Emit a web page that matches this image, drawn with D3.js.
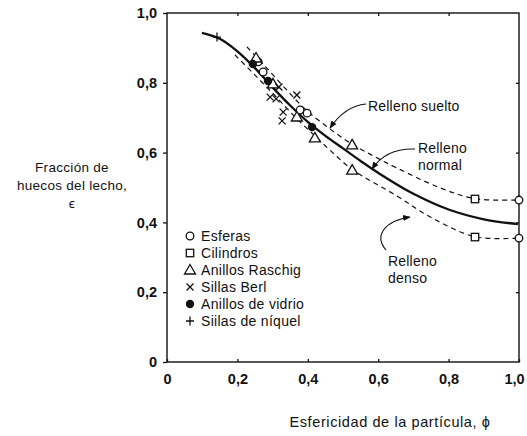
<!DOCTYPE html>
<html><head><meta charset="utf-8">
<script src="https://cdn.jsdelivr.net/npm/d3@7"></script>
<style>body{margin:0;background:#fff}svg{display:block}text{font-family:"Liberation Sans",Arial,sans-serif;fill:#111}</style>
</head><body>
<svg id="c" width="527" height="436"></svg>
<script>
const xTicks=[0,0.2,0.4,0.6,0.8,1.0];
const yTicks=[0,0.2,0.4,0.6,0.8,1.0];
const tickLabel=d=>d===0?"0":d.toFixed(1).replace(".",",");
// curves: [esfericidad, fraccion de huecos]
const rellenoNormal=[[0.099,0.943],[0.15,0.926],[0.2,0.890],[0.25,0.842],[0.3,0.787],[0.35,0.735],[0.4,0.688],[0.45,0.648],[0.5,0.612],[0.55,0.576],[0.6,0.542],[0.7,0.482],[0.8,0.437],[0.9,0.409],[0.997,0.395]];
const rellenoSuelto=[[0.227,0.903],[0.278,0.848],[0.335,0.785],[0.392,0.725],[0.463,0.668],[0.526,0.624],[0.591,0.588],[0.653,0.556],[0.776,0.499],[0.875,0.468],[0.997,0.464]];
const rellenoDenso=[[0.193,0.880],[0.250,0.822],[0.307,0.763],[0.364,0.702],[0.420,0.648],[0.463,0.607],[0.526,0.552],[0.653,0.476],[0.747,0.416],[0.875,0.359],[0.997,0.355]];
// data points
const esferas=[[0.259,0.860],[0.273,0.831],[0.378,0.722],[0.398,0.713],[1.0,0.464],[1.0,0.355]];
const cilindros=[[0.875,0.467],[0.875,0.358]];
const anillosRaschig=[[0.253,0.871],[0.301,0.797],[0.369,0.702],[0.420,0.642],[0.526,0.622],[0.526,0.550]];
const sillasBerl=[[0.293,0.759],[0.310,0.754],[0.318,0.788],[0.369,0.765],[0.330,0.716],[0.327,0.691]];
const anillosVidrio=[[0.244,0.854],[0.287,0.805],[0.412,0.673]];
const sillasNiquel=[[0.142,0.931]];
const legendLabels=["Esferas","Cilindros","Anillos Raschig","Sillas Berl","Anillos de vidrio","Siilas de níquel"];

const svg=d3.select("#c");
const x=d3.scaleLinear().domain([0,1]).range([167,519]);
const y=d3.scaleLinear().domain([0,1]).range([362,13]);

// frame
svg.append("rect").attr("x",x(0)).attr("y",y(1)).attr("width",x(1)-x(0)).attr("height",y(0)-y(1))
  .attr("fill","none").attr("stroke","#111").attr("stroke-width",1.4);

// axes (ticks)
const gl=svg.append("g").attr("transform",`translate(${x(0)},0)`)
  .call(d3.axisLeft(y).tickValues(yTicks).tickSize(4).tickPadding(6).tickFormat(tickLabel));
const gb=svg.append("g").attr("transform",`translate(0,${y(0)})`)
  .call(d3.axisBottom(x).tickValues(xTicks).tickSize(-3).tickPadding(12).tickFormat(tickLabel));
const gt=svg.append("g").attr("transform",`translate(0,${y(1)})`)
  .call(d3.axisTop(x).tickValues(xTicks.slice(1,-1)).tickSize(-3).tickFormat(""));
const gr=svg.append("g").attr("transform",`translate(${x(1)},0)`)
  .call(d3.axisRight(y).tickValues(yTicks.slice(1,-1)).tickSize(-3).tickFormat(""));
[gl,gb,gt,gr].forEach(g=>{g.select(".domain").remove();g.selectAll("line").attr("stroke","#111").attr("stroke-width",1.3);
  g.selectAll("text").style("font-family",'"Liberation Sans",Arial,sans-serif').style("font-size","14.5px").style("font-weight","bold").attr("fill","#111");});
gb.selectAll(".tick text").filter(d=>d===1).attr("dx",-5);

// curves
const line=d3.line().x(d=>x(d[0])).y(d=>y(d[1])).curve(d3.curveCatmullRom.alpha(0.5));
svg.append("path").datum(rellenoNormal).attr("d",line).attr("fill","none").attr("stroke","#111").attr("stroke-width",2.3);
svg.append("path").datum(rellenoSuelto).attr("d",line).attr("fill","none").attr("stroke","#111").attr("stroke-width",1.2).attr("stroke-dasharray","5,4");
svg.append("path").datum(rellenoDenso).attr("d",line).attr("fill","none").attr("stroke","#111").attr("stroke-width",1.2).attr("stroke-dasharray","5,4");

// marker drawers
function circle(g,cx,cy){g.append("circle").attr("cx",cx).attr("cy",cy).attr("r",3.8).attr("fill","#fff").attr("stroke","#111").attr("stroke-width",1.3);}
function square(g,cx,cy){g.append("rect").attr("x",cx-3.7).attr("y",cy-3.7).attr("width",7.4).attr("height",7.4).attr("fill","#fff").attr("stroke","#111").attr("stroke-width",1.3);}
function tri(g,cx,cy){g.append("path").attr("d",`M${cx},${cy-5.5}L${cx+5.5},${cy+4}L${cx-5.5},${cy+4}Z`).attr("fill","#fff").attr("stroke","#111").attr("stroke-width",1.3);}
function cross(g,cx,cy){g.append("path").attr("d",`M${cx-3.5},${cy-3.5}L${cx+3.5},${cy+3.5}M${cx+3.5},${cy-3.5}L${cx-3.5},${cy+3.5}`).attr("stroke","#111").attr("stroke-width",1.3);}
function dot(g,cx,cy){g.append("circle").attr("cx",cx).attr("cy",cy).attr("r",4.2).attr("fill","#111");}
function plus(g,cx,cy){g.append("path").attr("d",`M${cx-4},${cy}L${cx+4},${cy}M${cx},${cy-4.5}L${cx},${cy+4.5}`).attr("stroke","#111").attr("stroke-width",1.3);}
const sets=[[esferas,circle],[cilindros,square],[anillosRaschig,tri],[sillasBerl,cross],[anillosVidrio,dot],[sillasNiquel,plus]];
const gm=svg.append("g");
sets.forEach(([data,fn])=>data.forEach(d=>fn(gm,x(d[0]),y(d[1]))));

// legend
const lg=svg.append("g");
legendLabels.forEach((t,i)=>{
  const yy=236+i*17;
  sets[i][1](lg,190,yy);
  lg.append("text").attr("x",201).attr("y",yy).attr("dy","0.36em").style("font-size","14px").style("letter-spacing","0.3px").text(t);
});

// annotations
const defs=svg.append("defs");
defs.append("marker").attr("id","ah").attr("viewBox","0 0 10 10").attr("refX",9).attr("refY",5)
  .attr("markerWidth",7).attr("markerHeight",7).attr("orient","auto-start-reverse")
  .append("path").attr("d","M0,1L10,5L0,9Z").attr("fill","#111");
const ann=[
  {t:["Relleno suelto"],tx:368,ty:106,p:"M366,104 Q345,106 330,128"},
  {t:["Relleno","normal"],tx:418,ty:148,p:"M415,149 Q386,148 372,169"},
  {t:["Relleno","denso"],tx:388,ty:261,p:"M386,250 C374,236 384,221 410,217"}
];
ann.forEach(a=>{
  svg.append("path").attr("d",a.p).attr("fill","none").attr("stroke","#111").attr("stroke-width",1.1).attr("marker-end","url(#ah)");
  a.t.forEach((s,i)=>svg.append("text").attr("x",a.tx).attr("y",a.ty+i*16.5).attr("dy","0.36em").style("font-size","14px").style("letter-spacing","0.2px").text(s));
});

// axis titles
const yt=["Fracción de","huecos del lecho,","ϵ"];
yt.forEach((s,i)=>svg.append("text").attr("x",72).attr("y",167+i*18).attr("dy","0.36em").attr("text-anchor","middle").style("font-size","13.5px").style("letter-spacing","0.3px").text(s));
svg.append("text").attr("x",390).attr("y",422).attr("dy","0.36em").attr("text-anchor","middle").style("font-size","14.5px").style("letter-spacing","0.6px").text("Esfericidad de la partícula, ϕ");
</script>
</body></html>
